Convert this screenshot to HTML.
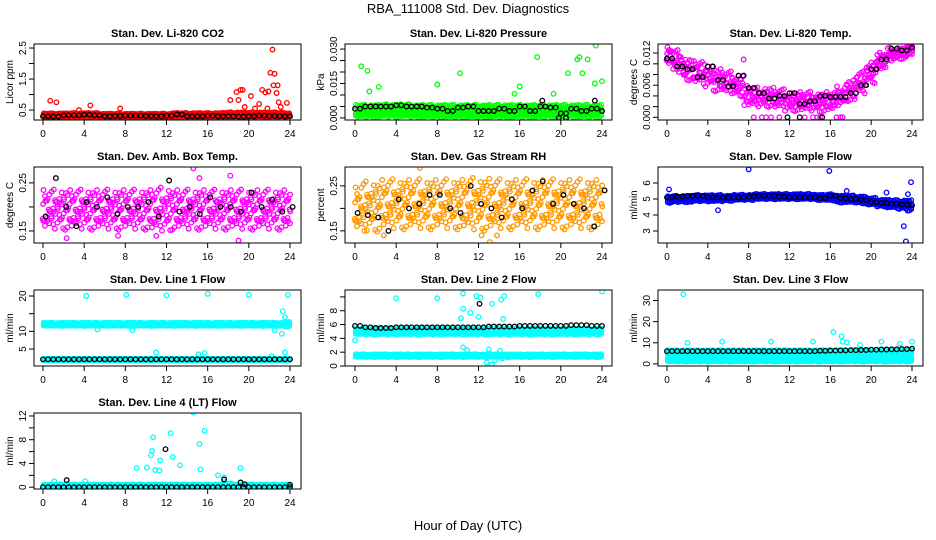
<!DOCTYPE html>
<html><head><meta charset="utf-8">
<style>
body{margin:0;background:#fff;}
svg{display:block;font-family:"Liberation Sans",sans-serif;}
.t{font-weight:bold;font-size:11px;}
.tk{font-size:10px;}
</style></head>
<body>
<svg id="c" width="936" height="540">
<text x="468" y="13" text-anchor="middle" font-size="13">RBA_111008  Std. Dev. Diagnostics</text>
<text x="468" y="530" text-anchor="middle" font-size="13">Hour of Day (UTC)</text>
</svg>
<script>
const hours=[0,1,2,3,4,5,6,7,8,9,10,11,12,13,14,15,16,17,18,19,20,21,22,23,24];
const xTicks=[0,4,8,12,16,20,24];
// Panel 1 CO2
const co2Mean=[0.33,0.33,0.33,0.34,0.34,0.34,0.33,0.33,0.33,0.33,0.33,0.33,0.33,0.34,0.34,0.34,0.34,0.34,0.35,0.35,0.35,0.35,0.35,0.35,0.34];
const co2Spread=[0.06,0.06,0.06,0.06,0.06,0.06,0.05,0.05,0.05,0.05,0.05,0.05,0.05,0.06,0.06,0.06,0.06,0.06,0.07,0.07,0.07,0.07,0.07,0.07,0.05];
const co2Black=[0.3,0.29,0.33,0.33,0.35,0.33,0.3,0.31,0.32,0.32,0.31,0.3,0.32,0.36,0.3,0.3,0.32,0.3,0.3,0.29,0.3,0.32,0.31,0.3,0.3];
const co2OutX=[0.7,1.3,4.6,7.5,3.5,18.2,18.8,19,19.2,19.4,19.6,20.2,20.6,21,21.3,21.6,21.9,21.8,22.1,22.4,22.5,22.7,22.8,22.9,23.1,22.3,23.7];
const co2OutY=[0.8,0.75,0.65,0.55,0.5,0.82,1.08,0.82,1.15,1.15,0.6,0.95,0.55,0.7,1.15,1.07,1.1,0.55,1.7,1.3,1.67,1.05,1.3,0.75,0.6,2.45,0.73];
const co2Ticks=[0.5,1,1.5,2,2.5];const co2Labels=["0.5","","1.5","","2.5"];
// Panel 2 Pressure
const presMean=[0.003,0.003,0.003,0.0032,0.0032,0.0032,0.003,0.003,0.003,0.003,0.003,0.003,0.003,0.003,0.003,0.003,0.003,0.003,0.003,0.003,0.003,0.003,0.003,0.003,0.003];
const presSpread=[0.0025,0.0025,0.0025,0.0025,0.0025,0.0025,0.0025,0.0025,0.0025,0.0025,0.0025,0.0025,0.0025,0.0025,0.0025,0.0025,0.0025,0.0025,0.0025,0.0025,0.0025,0.0025,0.0025,0.0025,0.0025];
const presBlack=[0.004,0.005,0.005,0.005,0.0055,0.005,0.005,0.0045,0.004,0.003,0.0045,0.005,0.003,0.003,0.004,0.003,0.005,0.003,0.005,0.0045,0.002,0.004,0.003,0.004,0.003];
const presOutX=[0.6,1.2,1.4,2.3,8,10.2,15.5,16,17.7,19.3,20.7,21.6,21.8,22.1,22.6,23.3,23.4,24];
const presOutY=[0.0225,0.0205,0.0115,0.0135,0.0145,0.0195,0.0105,0.0137,0.0265,0.0105,0.0195,0.0255,0.0265,0.0195,0.0255,0.015,0.0315,0.016];
const presBlackOutX=[19.8,20.5,18.2,23.3];const presBlackOutY=[0,0,0.0075,0.0075];
const presTicks=[0,0.005,0.01,0.015,0.02,0.025,0.03];const presLabels=["0.000","","","0.015","","","0.030"];
// Panel 3 Temp
const tempMean=[0.0115,0.0105,0.009,0.0085,0.0078,0.007,0.0065,0.006,0.004,0.0038,0.0038,0.0035,0.003,0.003,0.003,0.0028,0.003,0.004,0.005,0.0065,0.0085,0.0105,0.0118,0.012,0.0125];
const tempSpread=[0.0012,0.0015,0.0015,0.0015,0.0015,0.0015,0.0015,0.0015,0.0014,0.0013,0.0013,0.0013,0.0013,0.0013,0.0013,0.0013,0.0013,0.0013,0.0014,0.0015,0.0015,0.0012,0.0009,0.0008,0.0007];
const tempBlack=[0.011,0.0095,0.009,0.0075,0.0095,0.007,0.0058,0.0078,0.0055,0.0045,0.0035,0.004,0.0045,0.0025,0.003,0.004,0.0038,0.0038,0.0045,0.006,0.009,0.0108,0.0128,0.0125,0.013];
const tempOutX=[8.5,9.3,9.7,10.2,11,13.5,14.3,14.7,15,16.6,17,17.2,7.5];
const tempOutY=[0,0,0,0,0,0,0,0,0,0,0,0,0.0108];
const tempBlackOutX=[11.8,13,15.2];const tempBlackOutY=[0,0,0];
const tempTicks=[0,0.002,0.004,0.006,0.008,0.01,0.012];const tempLabels=["0.000","","","0.006","","","0.012"];
// Panel 4 Amb box temp
const ambMean=[0.195,0.195,0.195,0.195,0.195,0.195,0.195,0.195,0.195,0.195,0.195,0.195,0.195,0.195,0.195,0.195,0.195,0.195,0.195,0.195,0.195,0.195,0.195,0.195,0.195];
const ambSpread=[0.03,0.03,0.03,0.03,0.03,0.03,0.03,0.03,0.03,0.03,0.03,0.033,0.033,0.03,0.03,0.03,0.03,0.03,0.03,0.03,0.03,0.03,0.03,0.03,0.03];
const ambBlack=[0.18,0.26,0.2,0.16,0.21,0.2,0.22,0.185,0.2,0.2,0.21,0.18,0.255,0.19,0.2,0.185,0.22,0.2,0.2,0.19,0.23,0.2,0.215,0.19,0.2];
const ambOutX=[2.3,7.3,11,14.6,18.2,19,15.2];const ambOutY=[0.135,0.14,0.14,0.28,0.265,0.13,0.26];
const ambTicks=[0.15,0.2,0.25];const ambLabels=["0.15","","0.25"];
// Panel 5 Gas RH
const rhMean=[0.2,0.205,0.205,0.21,0.21,0.21,0.21,0.21,0.21,0.21,0.21,0.21,0.21,0.21,0.21,0.21,0.21,0.21,0.21,0.21,0.21,0.21,0.21,0.21,0.21];
const rhSpread=[0.035,0.04,0.04,0.04,0.04,0.04,0.04,0.04,0.04,0.04,0.04,0.042,0.042,0.042,0.04,0.04,0.04,0.04,0.04,0.04,0.04,0.04,0.04,0.04,0.04];
const rhBlack=[0.19,0.185,0.18,0.15,0.22,0.2,0.21,0.23,0.23,0.2,0.19,0.25,0.21,0.2,0.18,0.22,0.2,0.24,0.26,0.21,0.23,0.21,0.2,0.16,0.24];
const rhOutX=[6.3,13.1,12.3,13.8,2.8,0.9];const rhOutY=[0.29,0.125,0.14,0.14,0.14,0.15];
const rhTicks=[0.15,0.2,0.25];const rhLabels=["0.15","","0.25"];
// Panel 6 Sample flow
const sfMean=[4.95,5.0,5.0,5.05,5.05,5.05,5.05,5.1,5.1,5.15,5.15,5.15,5.15,5.15,5.15,5.1,5.1,5.0,5.0,4.95,4.85,4.75,4.7,4.65,4.6];
const sfSpread=[0.2,0.18,0.18,0.18,0.18,0.18,0.15,0.15,0.15,0.15,0.15,0.15,0.15,0.15,0.15,0.15,0.18,0.2,0.2,0.2,0.2,0.2,0.22,0.25,0.3];
const sfBlack=[5.1,5.15,5.2,5.2,5.1,5.1,5.1,5.1,5.15,5.2,5.2,5.15,5.1,5.1,5.1,5.05,5.2,5.05,5.0,4.95,4.8,4.75,4.7,4.65,4.6];
const sfOutX=[8,15.9,23.2,23.4,23.9,0.2,5,23.6,17.6,21.5];const sfOutY=[6.85,6.75,3.3,2.35,6.05,5.6,4.3,5.3,5.5,5.4];
const sfTicks=[3,4,5,6];const sfLabels=["3","4","5","6"];
// Panel 7 Line 1
const l1Mean=[12,12,12,12,12,12,12,12,12,12,12,12,12,12,12,12,12,12,12,12,12,12,12,12,12];
const l1Spread=[0.4,0.4,0.4,0.4,0.4,0.4,0.4,0.4,0.4,0.4,0.4,0.4,0.4,0.4,0.4,0.4,0.4,0.4,0.4,0.4,0.4,0.4,0.4,0.4,0.6];
const l1LowMean=[2,2,2,2,2,2,2,2,2,2,2,2,2,2,2,2,2,2,2,2,2,2,2,2,2];
const l1LowSpread=[0.2,0.2,0.2,0.2,0.2,0.2,0.2,0.2,0.2,0.2,0.2,0.2,0.2,0.2,0.2,0.2,0.2,0.2,0.2,0.2,0.2,0.2,0.2,0.2,0.2];
const l1Black=[2.1,2.1,2.1,2.1,2.1,2.1,2.1,2.1,2.1,2.1,2.1,2.1,2.1,2.1,2.1,2.1,2.1,2.1,2.1,2.1,2.1,2.1,2.1,2.1,2.1];
const l1OutX=[4.2,8.1,12,16,20,23.8,23.3,23.5,23.2,22.5,11,15.1,15.7,22.2,23.5,5.3,8.7];
const l1OutY=[20,20.3,20.2,20.6,20.3,20.3,15.7,14,9.3,10.3,4,3.5,3.9,3,4,10.5,10.3];
const l1Ticks=[5,10,15,20];const l1Labels=["5","10","","20"];
// Panel 8 Line 2
const l2Mean=[5,5,5,5,5,5,5,5,5,5,5,5,5,5,5,5,5,5,5,5,5,5,5,5,5];
const l2Spread=[0.4,0.4,0.4,0.4,0.4,0.4,0.4,0.4,0.4,0.4,0.4,0.4,0.4,0.4,0.4,0.4,0.4,0.4,0.4,0.4,0.4,0.4,0.4,0.4,0.4];
const l2LowMean=[1.5,1.5,1.5,1.5,1.5,1.5,1.5,1.5,1.5,1.5,1.5,1.5,1.5,1.5,1.5,1.5,1.5,1.5,1.5,1.5,1.5,1.5,1.5,1.5,1.5];
const l2LowSpread=[0.18,0.18,0.18,0.18,0.18,0.18,0.18,0.18,0.18,0.18,0.18,0.18,0.18,0.18,0.18,0.18,0.18,0.18,0.18,0.18,0.18,0.18,0.18,0.18,0.18];
const l2Black=[5.8,5.6,5.5,5.5,5.6,5.6,5.6,5.6,5.6,5.6,5.6,5.6,5.6,5.7,5.7,5.7,5.8,5.8,5.8,5.8,5.8,5.9,5.9,5.8,5.8];
const l2OutX=[4,8,10.5,11.8,12.2,10.5,11.2,10.3,12,13.3,14.5,14.2,14.4,17.8,24,0,10.5,10.9,13,12.8,13.3,13.6,14.3,14.1];
const l2OutY=[9.8,9.8,10.5,10.1,9.9,8.3,7.7,6.9,7.1,9,10.1,9.6,6.8,10.4,10.8,3.7,2.7,2.3,2.4,0.5,0.2,0.8,1.1,2.2];
const l2BlackOutX=[12.1];const l2BlackOutY=[9];
const l2Ticks=[0,2,4,6,8,10];const l2Labels=["0","2","4","6","8",""];
// Panel 9 Line 3
const l3Mean=[5.5,5.5,5.5,5.5,5.5,5.5,5.5,5.5,5.5,5.5,5.5,5.5,5.5,5.5,5.5,5.5,5.5,5.5,5.5,5.5,5.5,5.5,5.5,5.5,5.5];
const l3Spread=[0.9,0.9,0.9,0.9,0.9,0.9,0.9,0.9,0.9,0.9,0.9,0.9,0.9,0.9,0.9,0.9,0.9,0.9,0.9,0.9,0.9,0.9,0.9,0.9,0.9];
const l3LowMean=[2,2,2,2,2,2,2,2,2,2,2,2,2,2,2,2,2,2,2,2,2,2,2,2,2];
const l3LowSpread=[0.8,0.8,0.8,0.8,0.8,0.8,0.8,0.8,0.8,0.8,0.8,0.8,0.8,0.8,0.8,0.8,0.8,0.8,0.8,0.8,0.8,0.8,0.8,0.8,0.8];
const l3Black=[6,6,6,6,6,6,6,6,6,6,6,6,6,6,6,6.2,6.3,6.4,6.5,6.6,6.7,6.8,6.9,7,7.2];
const l3OutX=[1.6,2,5.4,10.2,14.3,16.3,17.1,17.2,17.6,18.9,21,22.8,24];
const l3OutY=[33,10,10.5,10.5,10.5,15,13,10.5,10.2,9,10.5,9.5,10.5];
const l3Ticks=[0,10,20,30];const l3Labels=["0","10","20","30"];
// Panel 10 Line 4
const l4Mean=[0.25,0.25,0.25,0.25,0.25,0.25,0.25,0.25,0.25,0.25,0.25,0.25,0.25,0.25,0.25,0.25,0.25,0.25,0.3,0.25,0.25,0.25,0.25,0.25,0.25];
const l4Spread=[0.2,0.2,0.2,0.2,0.2,0.2,0.2,0.2,0.2,0.2,0.2,0.2,0.2,0.2,0.2,0.2,0.2,0.2,0.3,0.2,0.2,0.2,0.2,0.2,0.2];
const l4Black=[0,0,0,0,0,0,0,0,0,0,0,0,0,0,0,0,0,0,0,0,0,0,0,0,0];
const l4OutX=[1.1,4.1,9.1,10.1,10.5,10.6,10.7,10.9,11.3,11.4,12.4,12.6,13.3,14.6,15.2,15.3,15.7,17,19.2,17.6];
const l4OutY=[1,1,3.2,3.3,5.4,6.1,8.4,2.9,2.8,4.5,9.1,5.1,3.7,12.6,7.3,3,9.5,2,3.2,1.6];
const l4BlackOutX=[2.3,11.9,17.6,19.2,19.6,24];const l4BlackOutY=[1.2,6.4,1.3,0.8,0.5,0.4];
const l4Ticks=[0,2,4,6,8,10,12];const l4Labels=["0","","4","","8","","12"];

const NS="http://www.w3.org/2000/svg";
const svg=document.getElementById('c');
const colX=[[34,301,43,290],[345,612,355,602],[658,923,667,912]];
const rowY=[44,167,290,413];
function mk(tag,attrs,parent){const e=document.createElementNS(NS,tag);for(const k in attrs)e.setAttribute(k,attrs[k]);(parent||svg).appendChild(e);return e;}
const xOffDense=[-0.42,-0.25,-0.08,0.08,0.25,0.42];
const yPatDense=[-0.9,-0.3,0.3,0.9];
const xOffSparse=[-0.4,-0.2,0,0.2,0.4];
const yPatSparse=[-1,-0.35,0.3,0.95];
const jitPat=[0.3,-0.45,0.1,0.55,-0.2,-0.6,0.4,-0.05,0.25,-0.35,0.6,-0.5,0.05];

function panel(p){
  const [L,R,x0,x24]=colX[p.col];const T=rowY[p.row],B=T+76;
  const g=mk('g',{});
  
  
  const sx=h=>x0+(x24-x0)*h/24;
  const sy=v=>B-(v-p.ymin)/(p.ymax-p.ymin)*(B-T);
  const t=mk('text',{x:(L+R)/2,y:T-7,'text-anchor':'middle',class:'t'},g);t.textContent=p.title;
  
  const clip='cl'+p.name;
  const cp=mk('clipPath',{id:clip},g);mk('rect',{x:L,y:T,width:R-L,height:B-T},cp);
  const dots=mk('g',{'clip-path':'url(#'+clip+')',fill:'none','stroke-width':1.3},g);
  
  function dot(h,v,c){const e=mk('circle',{cx:sx(h).toFixed(1),cy:sy(v).toFixed(1),r:2.3,stroke:c},dots);
    }
  const xo=p.sparse?xOffSparse:xOffDense, yp=p.sparse?yPatSparse:yPatDense;
  function cloud(mean,spread,c){
    let n=0;
    hours.forEach((h,i)=>{xo.forEach((dx,k)=>{
      const hh=h+dx;if(hh<0||hh>24)return;
      yp.forEach((m,j)=>{const jit=jitPat[(n++)%jitPat.length]*(p.sparse?0.7:0.35);dot(hh+(p.sparse?jit*0.12:0),mean[i]+spread[i]*(m+jit),c);});
    });});
  }
  cloud(p.mean,p.spread,p.color);
  if(p.lowMean)cloud(p.lowMean,p.lowSpread,p.color);
  p.outX.forEach((h,i)=>dot(h,p.outY[i],p.color));
  hours.forEach((h,i)=>{dot(h+(p.single?0.25:0),p.black[i],'#000');if(!p.single&&h<24)dot(h+0.5,p.black[i],'#000');});
  if(p.bx)p.bx.forEach((h,i)=>dot(h,p.by[i],'#000'));
  const fr=mk('rect',{x:L,y:T,width:R-L,height:B-T,fill:'none',stroke:'#000','stroke-width':1},g);
  
  xTicks.forEach(v=>{mk('line',{x1:sx(v),x2:sx(v),y1:B,y2:B+5,stroke:'#000'},g);
    const tx=mk('text',{x:sx(v),y:B+17,'text-anchor':'middle',class:'tk'},g);tx.textContent=v;
    });
  p.ticks.forEach((v,i)=>{const y=sy(v);mk('line',{x1:L-5,x2:L,y1:y,y2:y,stroke:'#000'},g);
    if(p.labels[i]){const tx=mk('text',{x:0,y:0,'text-anchor':'middle',class:'tk',transform:`translate(${L-8},${y}) rotate(-90)`},g);tx.textContent=p.labels[i];
    }});
  const yl=mk('text',{'text-anchor':'middle',class:'tk',transform:`translate(${L-21},${(T+B)/2}) rotate(-90)`},g);yl.textContent=p.ylab;
  
}
panel({name:'panel-co2',col:0,row:0,title:'Stan. Dev. Li-820 CO2',ylab:'Licor ppm',ymin:0.18,ymax:2.63,mean:co2Mean,spread:co2Spread,black:co2Black,outX:co2OutX,outY:co2OutY,color:'#ff0000',ticks:co2Ticks,labels:co2Labels});
panel({name:'panel-pressure',col:1,row:0,title:'Stan. Dev. Li-820 Pressure',ylab:'kPa',ymin:-0.0009,ymax:0.0322,mean:presMean,spread:presSpread,black:presBlack,outX:presOutX,outY:presOutY,bx:presBlackOutX,by:presBlackOutY,color:'#00ff00',ticks:presTicks,labels:presLabels});
panel({name:'panel-temp',col:2,row:0,title:'Stan. Dev. Li-820 Temp.',ylab:'degrees C',ymin:-0.0005,ymax:0.0137,mean:tempMean,spread:tempSpread,black:tempBlack,outX:tempOutX,outY:tempOutY,bx:tempBlackOutX,by:tempBlackOutY,color:'#ff00ff',ticks:tempTicks,labels:tempLabels,sparse:true});
panel({name:'panel-amb-box-temp',col:0,row:1,title:'Stan. Dev. Amb. Box Temp.',ylab:'degrees C',ymin:0.125,ymax:0.283,mean:ambMean,spread:ambSpread,black:ambBlack,outX:ambOutX,outY:ambOutY,color:'#ff00ff',ticks:ambTicks,labels:ambLabels,single:true,sparse:true});
panel({name:'panel-gas-rh',col:1,row:1,title:'Stan. Dev. Gas Stream RH',ylab:'percent',ymin:0.123,ymax:0.292,mean:rhMean,spread:rhSpread,black:rhBlack,outX:rhOutX,outY:rhOutY,color:'#ff9900',ticks:rhTicks,labels:rhLabels,single:true,sparse:true});
panel({name:'panel-sample-flow',col:2,row:1,title:'Stan. Dev. Sample Flow',ylab:'ml/min',ymin:2.25,ymax:7.0,mean:sfMean,spread:sfSpread,black:sfBlack,outX:sfOutX,outY:sfOutY,color:'#0000ff',ticks:sfTicks,labels:sfLabels});
panel({name:'panel-line1',col:0,row:2,title:'Stan. Dev. Line 1 Flow',ylab:'ml/min',ymin:0.2,ymax:21.7,mean:l1Mean,spread:l1Spread,lowMean:l1LowMean,lowSpread:l1LowSpread,black:l1Black,outX:l1OutX,outY:l1OutY,color:'#00ffff',ticks:l1Ticks,labels:l1Labels});
panel({name:'panel-line2',col:1,row:2,title:'Stan. Dev. Line 2 Flow',ylab:'ml/min',ymin:0,ymax:11,mean:l2Mean,spread:l2Spread,lowMean:l2LowMean,lowSpread:l2LowSpread,black:l2Black,outX:l2OutX,outY:l2OutY,bx:l2BlackOutX,by:l2BlackOutY,color:'#00ffff',ticks:l2Ticks,labels:l2Labels});
panel({name:'panel-line3',col:2,row:2,title:'Stan. Dev. Line 3 Flow',ylab:'ml/min',ymin:-1,ymax:35,mean:l3Mean,spread:l3Spread,lowMean:l3LowMean,lowSpread:l3LowSpread,black:l3Black,outX:l3OutX,outY:l3OutY,color:'#00ffff',ticks:l3Ticks,labels:l3Labels});
panel({name:'panel-line4',col:0,row:3,title:'Stan. Dev. Line 4 (LT) Flow',ylab:'ml/min',ymin:-0.3,ymax:12.5,mean:l4Mean,spread:l4Spread,black:l4Black,outX:l4OutX,outY:l4OutY,bx:l4BlackOutX,by:l4BlackOutY,color:'#00ffff',ticks:l4Ticks,labels:l4Labels});
</script>
</body></html>
